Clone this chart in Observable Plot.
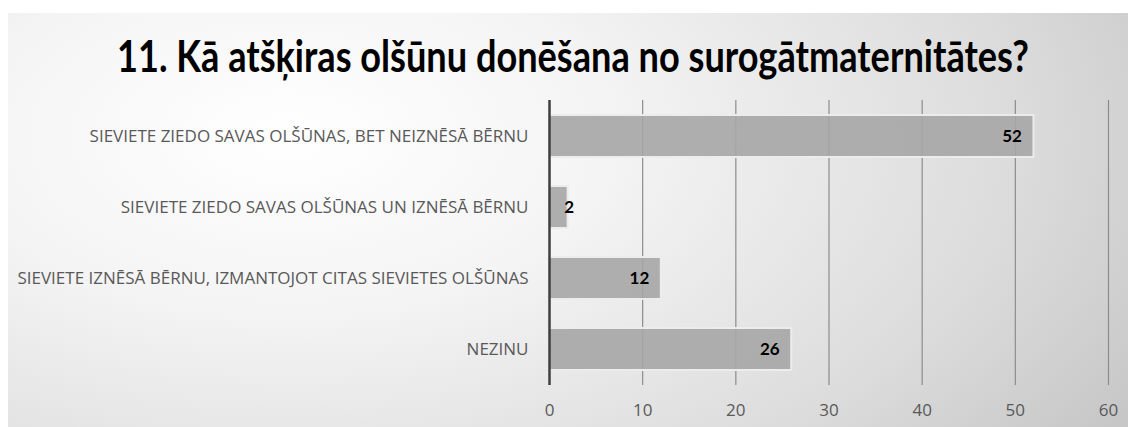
<!DOCTYPE html>
<html><head><meta charset="utf-8">
<script src="https://cdn.jsdelivr.net/npm/d3@7"></script>
<script src="https://cdn.jsdelivr.net/npm/@observablehq/plot@0.6"></script>
<style>
html,body{margin:0;padding:0;background:#fff;}
#wrap{position:relative;width:1128px;height:427px;overflow:hidden;background:#fff;}
#panel{position:absolute;left:8px;top:13px;right:0;bottom:0;
  background:radial-gradient(ellipse 95% 140% at 25% 30%, #ffffff 0%, #f4f4f4 30%, #dcdcdc 68%, #c0c0c0 100%);}
#title{position:absolute;left:117px;top:33px;margin:0;font-family:Lato,"Open Sans",sans-serif;font-weight:700;
  font-size:44px;line-height:44px;white-space:nowrap;color:#000;transform-origin:0 0;}
#chart{position:absolute;left:0;top:90px;}
</style></head>
<body>
<div id="wrap"><div id="panel"></div>
<div id="title">11. Kā atšķiras olšūnu donēšana no surogātmaternitātes?</div>
<div id="chart"></div></div>
<script>
const categories = [
  "SIEVIETE ZIEDO SAVAS OLŠŪNAS, BET NEIZNĒSĀ BĒRNU",
  "SIEVIETE ZIEDO SAVAS OLŠŪNAS UN IZNĒSĀ BĒRNU",
  "SIEVIETE IZNĒSĀ BĒRNU, IZMANTOJOT CITAS SIEVIETES OLŠŪNAS",
  "NEZINU"
];
const values = [52, 2, 12, 26];
const xTicks = [0, 10, 20, 30, 40, 50, 60];

const data = categories.map((c, i) => ({category: c, value: values[i]}));

const t = document.getElementById("title");
const w = t.getBoundingClientRect().width;
t.style.transform = `scaleX(${912 / w})`;

const chart = Plot.plot({
  width: 1128, height: 337,
  marginLeft: 549, marginRight: 20, marginTop: 10, marginBottom: 42,
  style: {background: "transparent", fontFamily: "'Open Sans', sans-serif", fontSize: "17px", color: "#595959"},
  x: {domain: [0, 60], ticks: xTicks, label: null},
  y: {domain: categories, paddingInner: 0.41, paddingOuter: 0.2, label: null},
  marks: [
    Plot.ruleX(xTicks.slice(1), {stroke: "#8c8c8c", strokeWidth: 1.2}),
    Plot.barX(data, {x: "value", y: "category", fill: "#a6a6a6", fillOpacity: 0.9, stroke: "#ececec", strokeWidth: 2}),
    Plot.ruleX([0], {stroke: "#3f3f3f", strokeWidth: 2.5}),
    Plot.axisX({ticks: xTicks, tickSize: 0, tickPadding: 18, fontSize: 17, fill: "#595959", label: null}),
    Plot.axisY({tickSize: 0, tickPadding: 21, fontSize: 17, fill: "#595959", label: null}),
    Plot.text(data.filter(d => d.value >= 5), {x: "value", y: "category", text: d => String(d.value),
      textAnchor: "end", dx: -12, fontWeight: 700, fontSize: 17, fontFamily: "Lato, sans-serif", fill: "#000"}),
    Plot.text(data.filter(d => d.value < 5), {x: "value", y: "category", text: d => String(d.value),
      textAnchor: "middle", dx: 1, fontWeight: 700, fontSize: 17, fontFamily: "Lato, sans-serif", fill: "#000"})
  ]
});
document.getElementById("chart").appendChild(chart);
</script>
</body></html>
